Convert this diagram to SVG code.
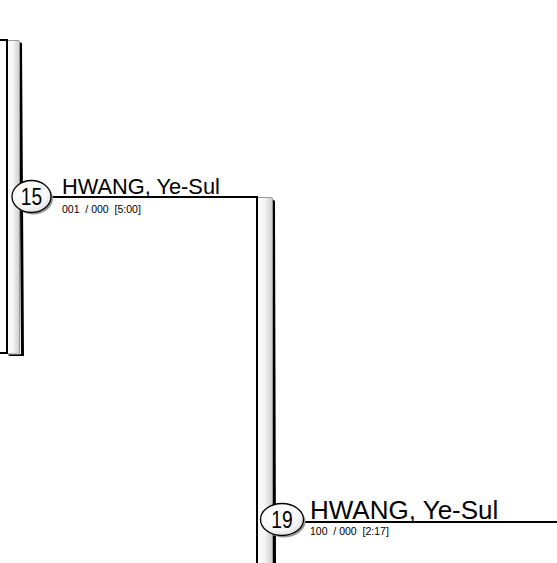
<svg xmlns="http://www.w3.org/2000/svg" width="557" height="563" viewBox="0 0 557 563">
<defs>
<linearGradient id="bar" x1="0" y1="0" x2="1" y2="0">
<stop offset="0" stop-color="#ffffff"/>
<stop offset="0.5" stop-color="#f4f4f4"/>
<stop offset="1" stop-color="#d0d0d0"/>
</linearGradient>
<radialGradient id="ball" cx="0.4" cy="0.35" r="0.7">
<stop offset="0" stop-color="#ffffff"/>
<stop offset="0.7" stop-color="#f6f6f6"/>
<stop offset="1" stop-color="#dcdcdc"/>
</radialGradient>
</defs>
<style>
.name{font-family:"Liberation Sans",Arial,sans-serif;fill:#000}
.sub{font-family:"Liberation Sans",Arial,sans-serif;font-size:10.5px;fill:#000}
.seed{font-family:"Liberation Sans",Arial,sans-serif;font-size:24px;fill:#000}
.ln{stroke:#000;stroke-width:2;fill:none}
.edge{stroke:#999;stroke-width:1;fill:none}
.shadow{fill:#000}
</style>
<rect width="557" height="563" fill="#fff"/>
<g id="connectors">
<rect x="7" y="40" width="12" height="313" fill="url(#bar)"/>
<polygon class="shadow" points="19,42 22,43 24,356 9,356 8,354 21,354"/>
<rect x="8" y="353" width="12" height="1.5" fill="#bbb"/>
<line class="edge" x1="7" y1="40.5" x2="19" y2="40.5"/>
<line class="edge" x1="19.5" y1="41" x2="19.5" y2="353"/>
<line class="ln" x1="0" y1="40" x2="8" y2="40"/>
<line class="ln" x1="7" y1="40" x2="7" y2="353"/>
<line class="ln" x1="0" y1="353" x2="8" y2="353"/>
<line class="ln" x1="48" y1="197" x2="258" y2="197"/>
<rect x="257" y="197" width="15" height="366" fill="url(#bar)"/>
<polygon class="shadow" points="272,199 275,201 276,563 273,563"/>
<line class="edge" x1="257" y1="197.5" x2="272" y2="197.5"/>
<line class="edge" x1="272.5" y1="198" x2="272.5" y2="563"/>
<line class="ln" x1="257" y1="196" x2="257" y2="563"/>
<line class="ln" x1="302" y1="522" x2="557" y2="522"/>
</g>
<g id="node15">
<ellipse cx="33.5" cy="198.5" rx="19.5" ry="16" fill="#999"/>
<ellipse cx="31.5" cy="196.5" rx="19.5" ry="16" fill="url(#ball)" stroke="#000" stroke-width="1.3"/>
<text class="seed" x="31.5" y="205" text-anchor="middle" transform="translate(31.5 0) scale(0.8 1) translate(-31.5 0)">15</text>
<text class="name" x="62" y="194" font-size="21.8">HWANG, Ye-Sul</text>
<text class="sub" x="62" y="213" xml:space="preserve">001  / 000  [5:00]</text>
</g>
<g id="node19">
<ellipse cx="284" cy="521.5" rx="21.5" ry="16" fill="#999"/>
<ellipse cx="282" cy="519.5" rx="21.5" ry="16" fill="url(#ball)" stroke="#000" stroke-width="1.3"/>
<text class="seed" x="282" y="528" text-anchor="middle" transform="translate(282 0) scale(0.8 1) translate(-282 0)">19</text>
<text class="name" x="310" y="519" font-size="26">HWANG, Ye-Sul</text>
<text class="sub" x="310" y="535" xml:space="preserve">100  / 000  [2:17]</text>
</g>
</svg>
